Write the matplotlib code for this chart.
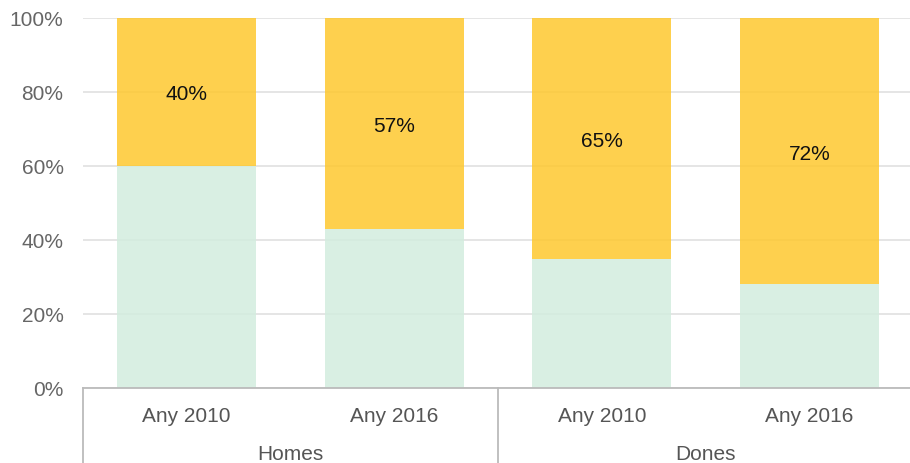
import numpy as np
import matplotlib
matplotlib.use("Agg")
import matplotlib.pyplot as plt
import matplotlib.transforms as mtransforms

plt.rcParams['font.family'] = ['Liberation Sans', 'DejaVu Sans']

# Data
categories = ["Any 2010", "Any 2016", "Any 2010", "Any 2016"]
groups = ["Homes", "Dones"]
top_vals = [40, 57, 65, 72]        # yellow segment (labelled)
bottom_vals = [60, 43, 35, 28]     # light green segment
yticks = [0, 20, 40, 60, 80, 100]

W, H = 910, 464
fig = plt.figure(figsize=(W / 100, H / 100), dpi=100)
ax = fig.add_axes([83 / W, 75 / H, 830 / W, 370 / H])

x = np.arange(len(categories))
bw = 0.67
ax.bar(x, bottom_vals, width=bw, color="#d3edde", alpha=0.85, zorder=2)
ax.bar(x, top_vals, width=bw, bottom=bottom_vals, color="#fec82f", alpha=0.85, zorder=2)

for xi, b, t in zip(x, bottom_vals, top_vals):
    ax.text(xi, b + t / 2, f"{t}%", ha="center", va="center_baseline", fontsize=15,
            color="#111111", zorder=3)

ax.set_xlim(-0.5, 3.5)
ax.set_ylim(0, 100)
ax.set_yticks(yticks)
ax.set_yticklabels([f"{v}%" for v in yticks])
ax.tick_params(axis="y", length=0, pad=14, labelsize=15, labelcolor="#666666")
ax.yaxis.grid(True, color="#e3e3e3", linewidth=1.3, zorder=0)
ax.set_axisbelow(True)

ax.set_xticks([])
for s in ["top", "right", "left"]:
    ax.spines[s].set_visible(False)
ax.spines["bottom"].set_color("#bbbbbb")
ax.spines["bottom"].set_linewidth(1.3)

# category / group labels below the axis
trans = mtransforms.blended_transform_factory(ax.transData, ax.transAxes)
for xi, c in zip(x, categories):
    ax.text(xi, -26 / 370, c, transform=trans, ha="center", va="center_baseline",
            fontsize=15, color="#555555")
for gi, g in enumerate(groups):
    ax.text(gi * 2 + 0.5, -64 / 370, g, transform=trans, ha="center", va="center_baseline",
            fontsize=15, color="#555555")

# vertical separators of the group box
for xs in [-0.5, 1.5]:
    ax.plot([xs, xs], [0, -80 / 370], transform=trans, color="#bbbbbb",
            linewidth=1.3, clip_on=False)

fig.savefig("out.png", dpi=100)
